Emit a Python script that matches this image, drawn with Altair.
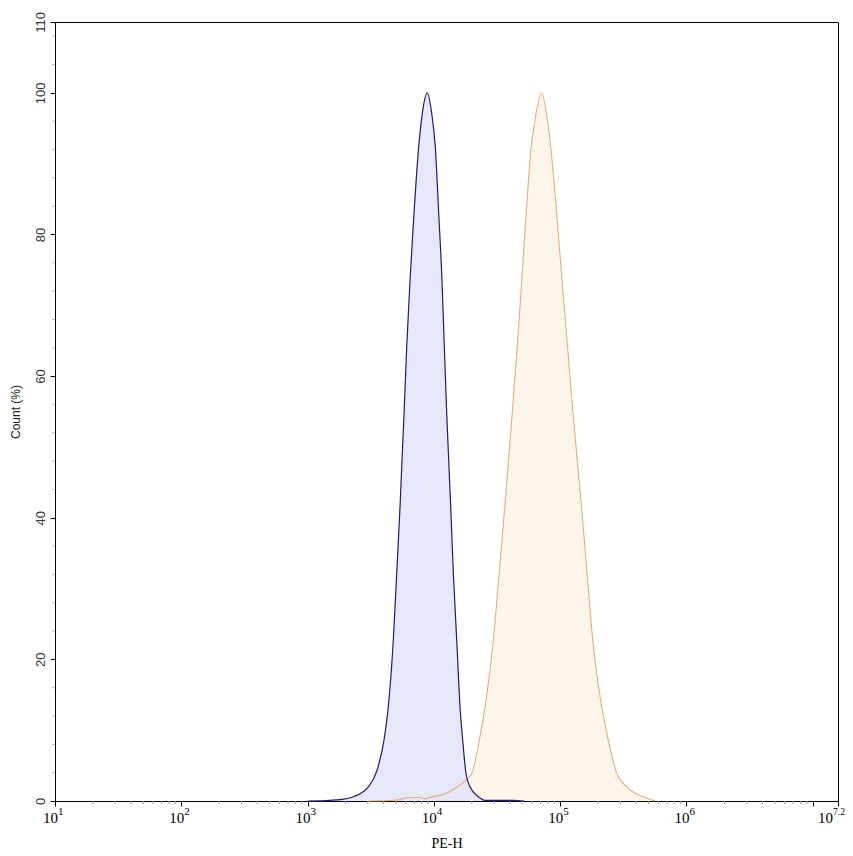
import altair as alt
import pandas as pd

# ---- data ----
blue_pe = [1000, 1500, 1807, 2301, 3027, 3527, 4027, 4356, 4773, 5080, 5397, 5805, 6096,
           6476, 6960, 7586, 8099, 8872, 9612, 10260, 10920, 11590, 12100, 12640,
           13590, 14260, 15170, 16110, 16910, 17960, 19330, 22480, 25410, 32000, 42000, 52000]
blue_count = [0, 0.1, 0.2, 0.6, 2.0, 4.2, 8.6, 13.3, 22.7, 32.2, 41.6, 54.7, 64.1,
              73.6, 83.0, 92.4, 97.1, 100, 97.1, 92.4, 83.0, 73.6, 64.1, 54.7,
              41.6, 32.2, 22.7, 13.3, 8.6, 3.9, 2.0, 0.6, 0.1, 0.1, 0.1, 0]

orange_pe = [3000, 4920, 6476, 7762, 8500, 9311, 12640, 16110, 19950, 22910, 25410, 29580,
             32910, 36450, 41730, 45690, 49720, 53850, 58970, 63230, 71400, 79090,
             84140, 93800, 103400, 114370, 126390, 147570, 163140, 181100, 213400,
             240600, 280400, 336600, 452900, 563600]
orange_count = [0, 0.1, 0.5, 0.5, 0.3, 0.5, 1.1, 2.3, 3.9, 8.6, 13.3, 22.7,
                32.2, 41.6, 54.7, 64.1, 73.6, 83.0, 92.4, 96.2, 100, 96.2,
                92.4, 83.0, 73.6, 64.1, 54.7, 41.6, 32.2, 22.7, 13.3,
                8.6, 3.9, 2.0, 0.6, 0]

x_major_ticks = [10, 100, 1000, 10000, 100000, 1000000, 10000000, 10 ** 7.2]
x_label_pos = [10, 100, 1000, 10000, 100000, 1000000, 10 ** 7.2]
x_label_exp = ["1", "2", "3", "4", "5", "6", "7.2"]
y_major_ticks = [0, 20, 40, 60, 80, 100, 110]

# minor tick positions (axis decoration)
x_minor_ticks = [k * 10 ** d for d in range(1, 7) for k in range(2, 10)]
y_minor_ticks = [v for v in range(4, 110, 4) if v % 20 != 0]

blue_df = pd.DataFrame({"pe": blue_pe, "count": blue_count})
orange_df = pd.DataFrame({"pe": orange_pe, "count": orange_count})
labels_df = pd.DataFrame({"pe": x_label_pos, "exp": x_label_exp})
xminor_df = pd.DataFrame({"pe": x_minor_ticks})
yminor_df = pd.DataFrame({"v": y_minor_ticks})

W, H = 783, 779
xscale = alt.Scale(type="log", domain=[10, 10 ** 7.2], nice=False)
yscale = alt.Scale(domain=[0, 110], nice=False, zero=True)

X = alt.X("pe:Q", scale=xscale,
          axis=alt.Axis(values=x_major_ticks, labels=False, grid=False, tickSize=5,
                        tickColor="black", domainColor="black", title="PE-H",
                        titleFont="Liberation Serif", titleFontSize=14, titleFontWeight="normal",
                        titleColor="black", titleBaseline="alphabetic", titleY=46))
Y = alt.Y("count:Q", scale=yscale,
          axis=alt.Axis(values=y_major_ticks, grid=False, tickSize=5, tickColor="black",
                        domainColor="black", labelAngle=-90, labelFont="Liberation Sans",
                        labelFontSize=13, labelColor="#333333", labelPadding=3,
                        title="Count (%)", titleFont="Liberation Sans", titleFontSize=12,
                        titleFontWeight="normal", titleColor="#222222",
                        titleX=-40, titleY=H / 2, titleAngle=270, titleBaseline="middle",
                        titleAlign="center"))

orange_area = alt.Chart(orange_df).mark_area(color="#fef5ea", interpolate="monotone").encode(x=X, y=Y)
blue_area = alt.Chart(blue_df).mark_area(color="#e4e4fa", opacity=0.9, interpolate="monotone").encode(x=X, y=Y)
orange_line = alt.Chart(orange_df).mark_line(color="#e0b07c", strokeWidth=1.1, interpolate="monotone").encode(x=X, y=Y)
blue_line = alt.Chart(blue_df).mark_line(color="#1c1c72", strokeWidth=1.2, interpolate="monotone").encode(x=X, y=Y)

xminor = alt.Chart(xminor_df).mark_rule(color="#9a9a9a", strokeWidth=1).encode(
    x=alt.X("pe:Q", scale=xscale), y=alt.value(H), y2=alt.value(H + 3))
yminor = alt.Chart(yminor_df).mark_rule(color="#bbbbbb", strokeWidth=1).encode(
    y=alt.Y("v:Q", scale=yscale), x=alt.value(-3), x2=alt.value(0))

lbl = alt.Chart(labels_df)
is_last = alt.datum.exp == "7.2"
not_last = alt.datum.exp != "7.2"
base_lbl = lbl.transform_filter(not_last).mark_text(
    font="Liberation Serif", fontSize=15, align="right", baseline="alphabetic", dx=3, color="black"
).encode(x=alt.X("pe:Q", scale=xscale), y=alt.value(H + 22), text=alt.value("10"))
exp_lbl = lbl.transform_filter(not_last).mark_text(
    font="Liberation Serif", fontSize=11, align="left", baseline="alphabetic", dx=3, color="black"
).encode(x=alt.X("pe:Q", scale=xscale), y=alt.value(H + 14), text="exp:N")
base_last = lbl.transform_filter(is_last).mark_text(
    font="Liberation Serif", fontSize=15, align="right", baseline="alphabetic", dx=-5, color="black"
).encode(x=alt.X("pe:Q", scale=xscale), y=alt.value(H + 22), text=alt.value("10"))
exp_last = lbl.transform_filter(is_last).mark_text(
    font="Liberation Serif", fontSize=9.5, align="left", baseline="alphabetic", dx=-5, color="black"
).encode(x=alt.X("pe:Q", scale=xscale), y=alt.value(H + 14), text="exp:N")

chart = alt.layer(orange_area, blue_area, orange_line, blue_line, xminor, yminor,
                  base_lbl, exp_lbl, base_last, exp_last).properties(
    width=W, height=H,
    autosize=alt.AutoSizeParams(type="none"),
    padding={"left": 47, "top": 14, "right": 7, "bottom": 55},
).configure_view(stroke="black", strokeWidth=1).configure_axis(domainWidth=1, tickWidth=1)

chart.save("out.html", embed_options={"renderer": "svg", "actions": False})
